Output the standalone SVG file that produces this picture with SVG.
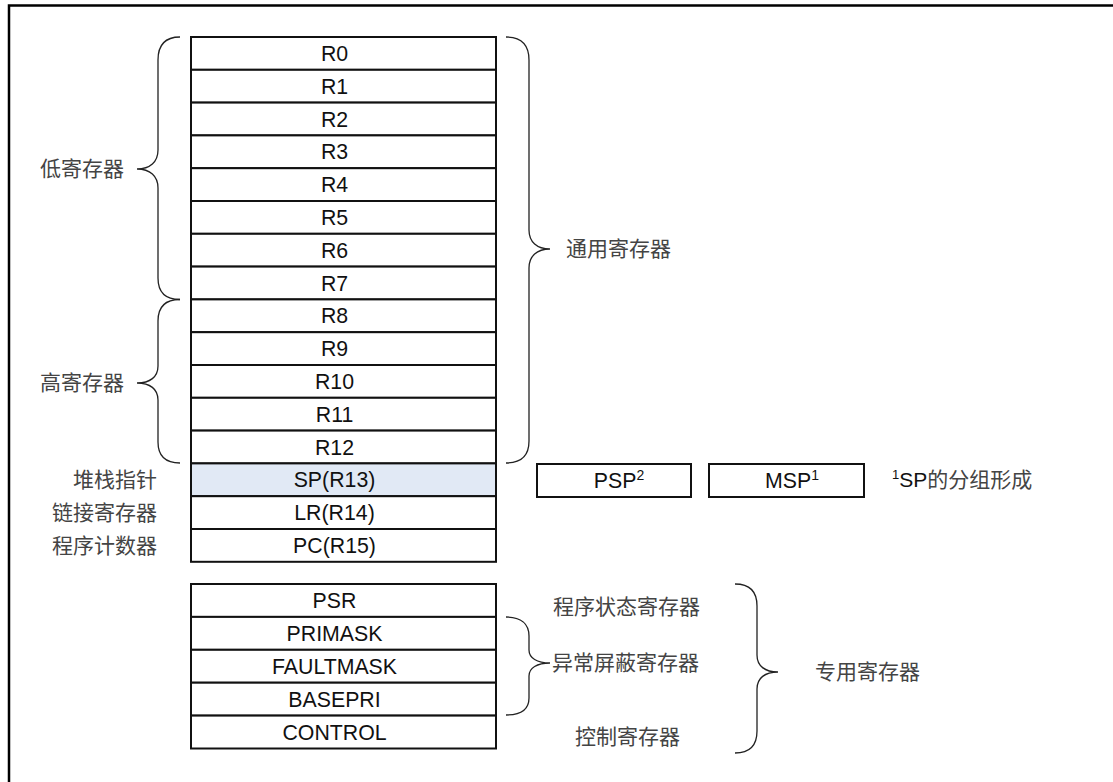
<svg xmlns="http://www.w3.org/2000/svg" width="1113" height="782" viewBox="0 0 1113 782">
<style>
.reg{fill:#fff;stroke:#111;stroke-width:2}
.sp{fill:#e1e9f5;stroke:#111;stroke-width:2}
.rt{font-family:"Liberation Sans",Arial,sans-serif;font-size:21.3px;fill:#111;text-anchor:middle}
.cn{font-family:"Liberation Sans","Noto Sans CJK SC",sans-serif;font-size:21px;fill:#444}
.br{fill:none;stroke:#222;stroke-width:1.3}
</style>
<rect x="0" y="0" width="1113" height="782" fill="#fff"/>
<rect x="9" y="5.5" width="1120" height="800" fill="none" stroke="#000" stroke-width="2.5"/>

<g id="general-registers">
<g id="R0"><rect class="reg" x="191" y="37" width="305" height="32.8"/><text class="rt" x="334.5" y="61">R0</text></g>
<g id="R1"><rect class="reg" x="191" y="69.8" width="305" height="32.8"/><text class="rt" x="334.5" y="93.8">R1</text></g>
<g id="R2"><rect class="reg" x="191" y="102.6" width="305" height="32.8"/><text class="rt" x="334.5" y="126.6">R2</text></g>
<g id="R3"><rect class="reg" x="191" y="135.4" width="305" height="32.8"/><text class="rt" x="334.5" y="159.4">R3</text></g>
<g id="R4"><rect class="reg" x="191" y="168.2" width="305" height="32.8"/><text class="rt" x="334.5" y="192.2">R4</text></g>
<g id="R5"><rect class="reg" x="191" y="201" width="305" height="32.8"/><text class="rt" x="334.5" y="225">R5</text></g>
<g id="R6"><rect class="reg" x="191" y="233.8" width="305" height="32.8"/><text class="rt" x="334.5" y="257.8">R6</text></g>
<g id="R7"><rect class="reg" x="191" y="266.6" width="305" height="32.8"/><text class="rt" x="334.5" y="290.6">R7</text></g>
<g id="R8"><rect class="reg" x="191" y="299.4" width="305" height="32.8"/><text class="rt" x="334.5" y="323.4">R8</text></g>
<g id="R9"><rect class="reg" x="191" y="332.2" width="305" height="32.8"/><text class="rt" x="334.5" y="356.2">R9</text></g>
<g id="R10"><rect class="reg" x="191" y="365" width="305" height="32.8"/><text class="rt" x="334.5" y="389">R10</text></g>
<g id="R11"><rect class="reg" x="191" y="397.8" width="305" height="32.8"/><text class="rt" x="334.5" y="421.8">R11</text></g>
<g id="R12"><rect class="reg" x="191" y="430.6" width="305" height="32.8"/><text class="rt" x="334.5" y="454.6">R12</text></g>
<g id="SP"><rect class="sp" x="191" y="463.4" width="305" height="32.8"/><text class="rt" x="334.5" y="487.4">SP(R13)</text></g>
<g id="LR"><rect class="reg" x="191" y="496.2" width="305" height="32.8"/><text class="rt" x="334.5" y="520.2">LR(R14)</text></g>
<g id="PC"><rect class="reg" x="191" y="529" width="305" height="32.8"/><text class="rt" x="334.5" y="553">PC(R15)</text></g>
</g>

<g id="special-registers">
<g id="PSR"><rect class="reg" x="191" y="584" width="305" height="32.9"/><text class="rt" x="334.5" y="608">PSR</text></g>
<g id="PRIMASK"><rect class="reg" x="191" y="616.9" width="305" height="32.9"/><text class="rt" x="334.5" y="640.9">PRIMASK</text></g>
<g id="FAULTMASK"><rect class="reg" x="191" y="649.8" width="305" height="32.9"/><text class="rt" x="334.5" y="673.8">FAULTMASK</text></g>
<g id="BASEPRI"><rect class="reg" x="191" y="682.7" width="305" height="32.9"/><text class="rt" x="334.5" y="706.7">BASEPRI</text></g>
<g id="CONTROL"><rect class="reg" x="191" y="715.6" width="305" height="32.9"/><text class="rt" x="334.5" y="739.6">CONTROL</text></g>
</g>

<g id="PSP"><rect class="reg" x="537" y="464" width="154" height="33"/><text class="rt" x="619" y="488">PSP<tspan font-size="14" dy="-8">2</tspan></text></g>
<g id="MSP"><rect class="reg" x="709" y="464" width="155" height="33"/><text class="rt" x="792" y="488">MSP<tspan font-size="14" dy="-8">1</tspan></text></g>
<g id="footnote"><text class="cn" x="892" y="487"><tspan font-size="13" dy="-8" fill="#111">1</tspan><tspan dy="8" fill="#111">SP</tspan><tspan>的分组形成</tspan></text></g>

<g id="labels">
<text class="cn" x="124" y="176" text-anchor="end">低寄存器</text>
<text class="cn" x="124" y="390" text-anchor="end">高寄存器</text>
<text class="cn" x="157" y="487" text-anchor="end">堆栈指针</text>
<text class="cn" x="157" y="520" text-anchor="end">链接寄存器</text>
<text class="cn" x="157" y="553" text-anchor="end">程序计数器</text>
<text class="cn" x="566" y="256">通用寄存器</text>
<text class="cn" x="553" y="614">程序状态寄存器</text>
<text class="cn" x="552" y="670">异常屏蔽寄存器</text>
<text class="cn" x="575" y="744">控制寄存器</text>
<text class="cn" x="815" y="679">专用寄存器</text>
</g>

<g id="connectors">
<path class="br" d="M180,37 C165,37 158,45 158,60 L158,150 C158,162 150,169 137,169 C150,169 158,176 158,188 L158,278 C158,292 165,299.5 180,299.5"/>
<path class="br" d="M180,299.5 C165,299.5 158,307 158,321 L158,366 C158,377 150,383 137,383 C150,383 158,389 158,400 L158,442 C158,456 165,463 180,463"/>
<path class="br" d="M506,37 C521,37 529,45 529,60 L529,230 C529,242 537,249 550,249 C537,249 529,256 529,268 L529,441 C529,456 521,463 506,463"/>
<path class="br" d="M506,617 C521,617 529,624 529,636 L529,650 C529,658 537,663 550,663 C537,663 529,668 529,676 L529,698 C529,709 521,715 506,715"/>
<path class="br" d="M735,584 C750,584 757,592 757,606 L757,655 C757,666 765,672 778,672 C765,672 757,678 757,689 L757,731 C757,745 750,753 735,753"/>
</g>
</svg>
